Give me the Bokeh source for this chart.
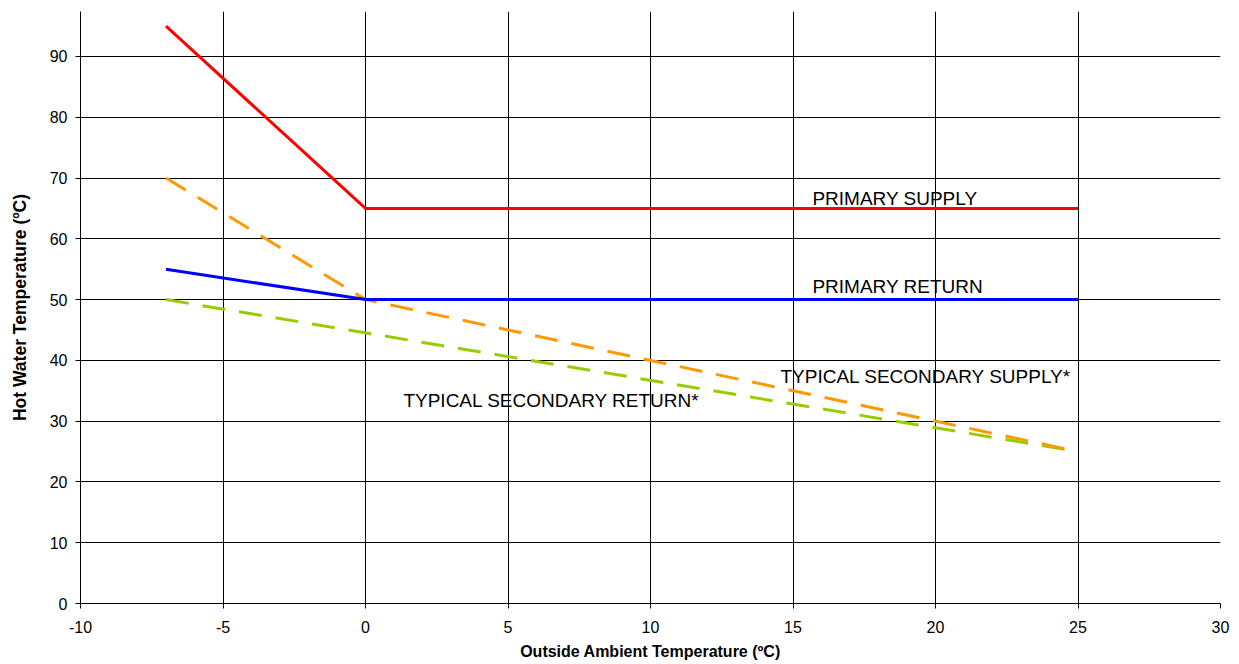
from bokeh.plotting import figure
from bokeh.models import Range1d, FixedTicker, Label
from bokeh.embed import file_html
from bokeh.resources import INLINE

# Data
outside_temp_primary = [-7, 0, 25]
primary_supply = [95, 65, 65]
primary_return = [55, 50, 50]
outside_temp_secondary_supply = [-7, 0, 25]
secondary_supply = [70, 50, 25]
outside_temp_secondary_return = [-7, 25]
secondary_return = [50, 25]

x_ticks = [-10, -5, 0, 5, 10, 15, 20, 25, 30]
y_ticks = [0, 10, 20, 30, 40, 50, 60, 70, 80, 90]

FONT = "Liberation Sans"

p = figure(width=1232, height=664, output_backend="svg", toolbar_location=None,
           x_range=Range1d(-10, 30), y_range=Range1d(0, 97.4),
           min_border_left=80, min_border_right=12, min_border_top=11, min_border_bottom=61)
p.outline_line_color = None
p.background_fill_color = "white"

for ax in (p.xaxis[0], p.yaxis[0]):
    ax.axis_line_color = "black"
    ax.axis_line_width = 1
    ax.major_tick_line_color = "black"
    ax.major_tick_out = 5
    ax.major_tick_in = 0
    ax.minor_tick_line_color = None
    ax.major_label_text_font = FONT
    ax.major_label_text_font_size = "16px"
    ax.major_label_text_color = "black"
    ax.axis_label_text_font = FONT
    ax.axis_label_text_font_size = "16px"
    ax.axis_label_text_font_style = "bold"
    ax.axis_label_text_color = "black"

p.yaxis.axis_label_text_font_size = "17.5px"
p.xaxis.ticker = FixedTicker(ticks=x_ticks)
p.yaxis.ticker = FixedTicker(ticks=y_ticks)
p.xaxis.major_label_overrides = {t: str(t) for t in x_ticks}
p.yaxis.major_label_overrides = {t: str(t) for t in y_ticks}
p.xaxis.major_label_standoff = 12
p.yaxis.major_label_standoff = 8
p.xaxis.axis_label = "Outside Ambient Temperature (ºC)"
p.yaxis.axis_label = "Hot Water Temperature (ºC)"
p.xaxis.axis_label_standoff = 7
p.yaxis.axis_label_standoff = 17

p.xgrid.grid_line_color = "black"
p.ygrid.grid_line_color = "black"
p.xgrid.grid_line_width = 1
p.ygrid.grid_line_width = 1
p.xgrid.ticker = FixedTicker(ticks=x_ticks)
p.ygrid.ticker = FixedTicker(ticks=y_ticks)

p.line(outside_temp_secondary_return, secondary_return, line_color="#99CC00", line_width=3, line_dash="23 14")
p.line(outside_temp_secondary_supply, secondary_supply, line_color="#FF9900", line_width=3, line_dash="23 14")
p.line(outside_temp_primary, primary_return, line_color="#0000FF", line_width=3)
p.line(outside_temp_primary, primary_supply, line_color="#FF0000", line_width=3)

labels = [
    ("PRIMARY SUPPLY", 15.68, 66.6),
    ("PRIMARY RETURN", 15.68, 52.2),
    ("TYPICAL SECONDARY SUPPLY*", 14.56, 37.3),
    ("TYPICAL SECONDARY RETURN*", 1.33, 33.4),
]
for txt, lx, ly in labels:
    p.add_layout(Label(x=lx, y=ly, text=txt, text_font=FONT, text_font_size="19px",
                       text_color="black", text_baseline="middle", text_align="left"))

open("out.html", "w").write(file_html(p, INLINE))
